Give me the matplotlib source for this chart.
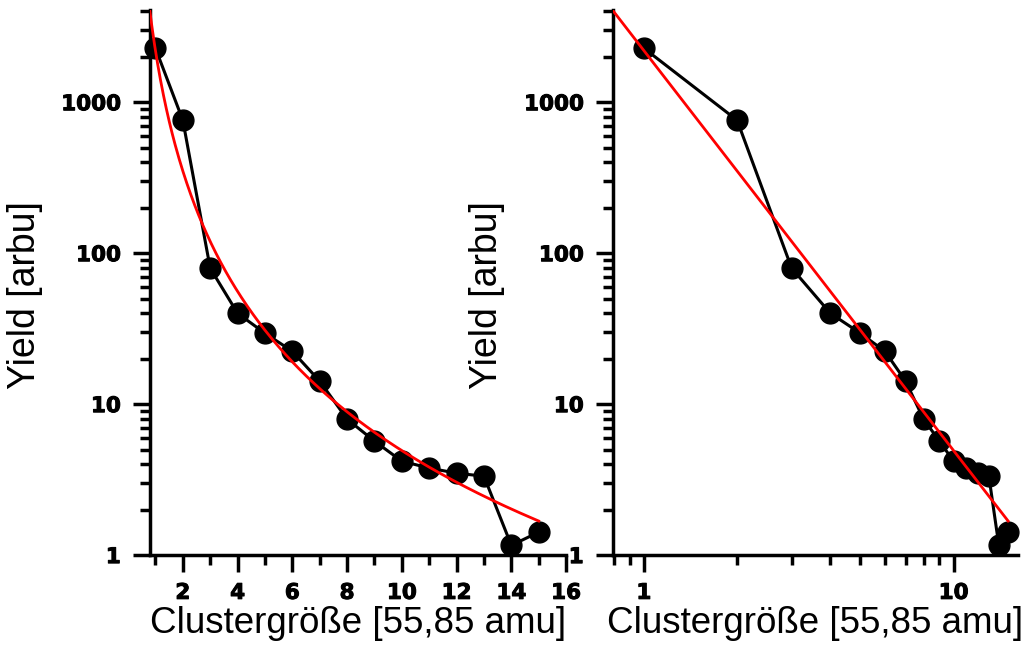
import numpy as np
import matplotlib.pyplot as plt
import matplotlib.patheffects as pe
from matplotlib import font_manager
from matplotlib.ticker import FixedLocator, LogLocator, NullFormatter, FuncFormatter

plt.switch_backend("Agg")
plt.rcParams["font.family"] = ["Liberation Sans", "DejaVu Sans"]

# cluster size and measured yield
cluster_size = [1, 2, 3, 4, 5, 6, 7, 8, 9, 10, 11, 12, 13, 14, 15]
yield_arbu = [2280, 760, 79.6, 40, 29.5, 22.4, 14.2, 7.96, 5.69, 4.19, 3.77, 3.49, 3.33, 1.16, 1.42]

# power-law fit y = A * x^-b
fit_A = 2200
fit_b = 2.65
fit_range = (0.794, 15)

x_label = "Clustergröße [55,85 amu]"
y_label = "Yield [arbu]"

tick_font = font_manager.FontProperties(family="DejaVu Sans", weight="bold", size=15.5)
heavy = [pe.withStroke(linewidth=0.7, foreground="black")]


def style_axes(ax):
    for side in ("top", "right"):
        ax.spines[side].set_visible(False)
    for side in ("left", "bottom"):
        ax.spines[side].set_linewidth(2.5)
    ax.tick_params(which="major", direction="out", length=12, width=2.5)
    ax.tick_params(axis="y", which="major", pad=9)
    ax.tick_params(axis="x", which="major", pad=8)
    ax.tick_params(which="minor", direction="out", length=7, width=2.5)
    ax.set_yscale("log")
    ax.set_ylim(1, 4060)
    ax.yaxis.set_major_locator(FixedLocator([1, 10, 100, 1000]))
    ax.yaxis.set_minor_locator(LogLocator(base=10, subs=np.arange(2, 10)))
    ax.yaxis.set_minor_formatter(NullFormatter())
    ax.yaxis.set_major_formatter(FuncFormatter(lambda v, p: f"{v:g}"))
    ax.set_xlabel(x_label, fontsize=26.5, labelpad=2)
    ax.set_ylabel(y_label, fontsize=27)


def draw_series(ax):
    xs = np.linspace(fit_range[0], fit_range[1], 400)
    ax.plot(cluster_size, yield_arbu, color="black", linewidth=2.2,
            marker="o", markersize=15, clip_on=False, zorder=3)
    ax.plot(xs, fit_A * xs ** (-fit_b), color="#ff0000", linewidth=2, zorder=4)


fig = plt.figure(figsize=(10.3, 6.5), dpi=100)

ax1 = fig.add_axes([0.1456, 0.146, 0.404, 0.838])
draw_series(ax1)
style_axes(ax1)
ax1.set_xlim(0.8, 16)
ax1.xaxis.set_major_locator(FixedLocator([2, 4, 6, 8, 10, 12, 14, 16]))
ax1.xaxis.set_minor_locator(FixedLocator([1, 3, 5, 7, 9, 11, 13, 15]))
ax1.yaxis.set_label_coords(-0.258, 0.477)

ax2 = fig.add_axes([0.595, 0.146, 0.393, 0.838])
draw_series(ax2)
style_axes(ax2)
ax2.set_xscale("log")
ax2.set_xlim(0.794, 16.1)
ax2.xaxis.set_major_locator(FixedLocator([1, 10]))
ax2.xaxis.set_minor_locator(LogLocator(base=10, subs=np.arange(2, 10)))
ax2.xaxis.set_minor_formatter(NullFormatter())
ax2.xaxis.set_major_formatter(FuncFormatter(lambda v, p: f"{v:g}"))
ax2.yaxis.set_label_coords(-0.267, 0.477)

for ax in (ax1, ax2):
    for lab in ax.get_xticklabels() + ax.get_yticklabels():
        lab.set_fontproperties(tick_font)
        lab.set_path_effects(heavy)

fig.savefig("out.png", dpi=100)
plt.close(fig)
